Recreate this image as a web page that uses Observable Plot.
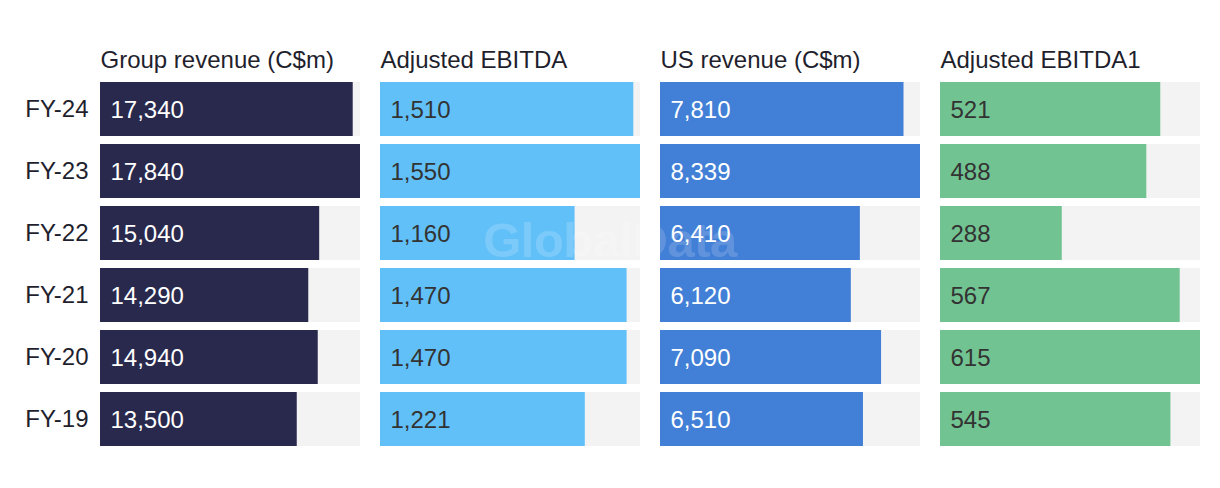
<!DOCTYPE html>
<html>
<head>
<meta charset="utf-8">
<script src="https://cdn.jsdelivr.net/npm/d3@7"></script>
<script src="https://cdn.jsdelivr.net/npm/@observablehq/plot@0.6"></script>
<style>
  html, body { margin: 0; padding: 0; background: #fff; }
  #wrap { position: relative; width: 1220px; height: 488px; display: flex; font-family: "Liberation Sans", Arial, sans-serif; }
  #wm { position: absolute; left: 0; width: 1220px; top: 212px; text-align: center; font: bold 49px "Liberation Sans", Arial, sans-serif; color: rgba(255,255,255,0.16); pointer-events: none; letter-spacing: -0.5px; }
</style>
</head>
<body>
<div id="wrap"><div id="wm">GlobalData</div></div>
<script>
const years = ["FY-24", "FY-23", "FY-22", "FY-21", "FY-20", "FY-19"];
const titles = ["Group revenue (C$m)", "Adjusted EBITDA", "US revenue (C$m)", "Adjusted EBITDA1"];
const groupRevenue = [17340, 17840, 15040, 14290, 14940, 13500];
const adjustedEbitda = [1510, 1550, 1160, 1470, 1470, 1221];
const usRevenue = [7810, 8339, 6410, 6120, 7090, 6510];
const adjustedEbitdaUS = [521, 488, 288, 567, 615, 545];
const barColors = ["#29294d", "#62c0f8", "#427fd6", "#72c392"];
const labelColors = ["#ffffff", "#333333", "#ffffff", "#333333"];

const series = [groupRevenue, adjustedEbitda, usRevenue, adjustedEbitdaUS];
const wrap = document.getElementById("wrap");
const fmt = d3.format(",");

series.forEach((vals, i) => {
  const data = years.map((y, j) => ({year: y, value: vals[j]}));
  const max = d3.max(vals);
  const first = i === 0;
  const chart = Plot.plot({
    width: first ? 360 : 280,
    height: 488,
    marginLeft: first ? 100 : 20,
    marginRight: 0,
    marginTop: 82,
    marginBottom: 42,
    style: {fontFamily: "'Liberation Sans', Arial, sans-serif", fontSize: "24px", background: "transparent", overflow: "visible"},
    x: {domain: [0, max], axis: null},
    y: {domain: years, axis: first ? "left" : null, paddingInner: 8 / 62, paddingOuter: 0, label: null, tickSize: 0, tickPadding: 12},
    marks: [
      Plot.barX(data, {y: "year", x1: 0, x2: () => max, fill: "#f3f3f3"}),
      Plot.barX(data, {y: "year", x: "value", fill: barColors[i]}),
      Plot.text(data, {y: "year", x: 0, text: d => fmt(d.value), textAnchor: "start", dx: 10, dy: 1, fill: labelColors[i], fontSize: 24}),
      Plot.text([titles[i]], {frameAnchor: "top-left", text: d => d, textAnchor: "start", lineAnchor: "bottom", dy: -15, fill: "#1f1f2e", fontSize: 24})
    ]
  });
  chart.style.flex = "none";
  if (first) {
    chart.querySelectorAll("g[aria-label='y-axis tick label'] text, g[aria-label='y-axis tick label']").forEach(e => e.setAttribute("fill", "#1f1f2e"));
  }
  wrap.appendChild(chart);
});
wrap.appendChild(document.getElementById("wm"));
</script>
</body>
</html>
